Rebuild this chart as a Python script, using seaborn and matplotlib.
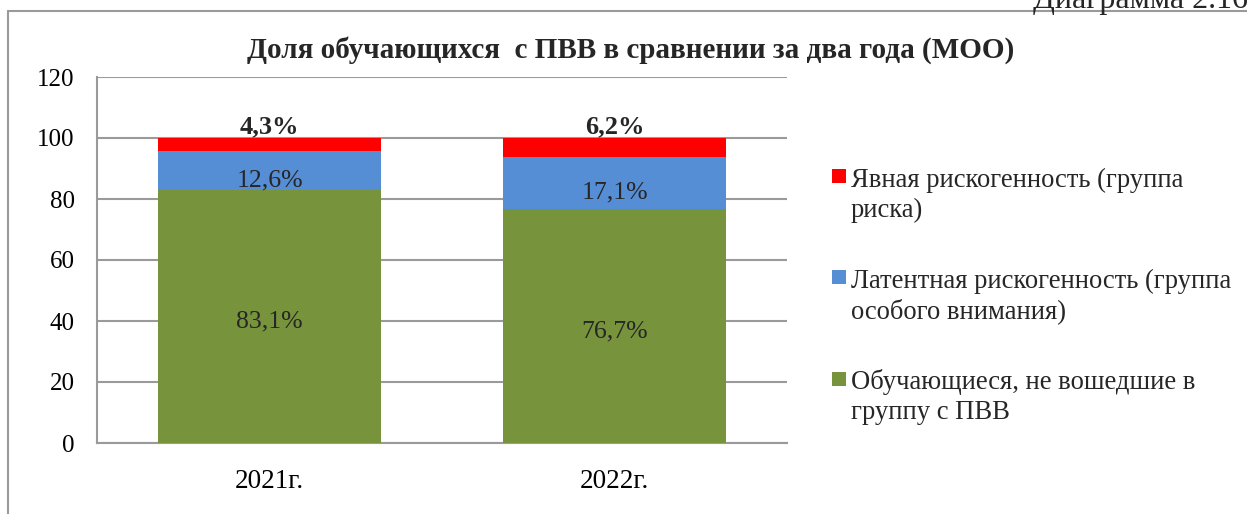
import numpy as np
import pandas as pd
import matplotlib
matplotlib.use("Agg")
import matplotlib.pyplot as plt
from matplotlib.lines import Line2D
from matplotlib.patches import Rectangle
import seaborn as sns

years = ["2021г.", "2022г."]
green_vals = [83.1, 76.7]
blue_vals = [12.6, 17.1]
red_vals = [4.3, 6.2]
green_labels = ["83,1%", "76,7%"]
blue_labels = ["12,6%", "17,1%"]
red_labels = ["4,3%", "6,2%"]
series_names = [["Явная рискогенность (группа", "риска)"],
                ["Латентная рискогенность (группа", "особого внимания)"],
                ["Обучающиеся, не вошедшие в", "группу с ПВВ"]]
title = "Доля обучающихся  с ПВВ в сравнении за два года (МОО)"
caption = "Диаграмма 2.16"
yticks = [0, 20, 40, 60, 80, 100, 120]

C_RED = "#FF0000"
C_BLUE = "#558ED5"
C_GREEN = "#77933C"
GRID = "#9A9A9A"

sns.set_theme(style="white")
plt.rcParams["font.family"] = ["Liberation Serif", "DejaVu Serif"]

W, H = 1247, 514
fig = plt.figure(figsize=(W / 100, H / 100), dpi=100)
fig.patch.set_facecolor("white")


def fx(px):
    return px / W


def fy(py):
    return 1 - py / H


ax_left, ax_right, ax_top, ax_bottom = 97, 787, 77, 443
ax = fig.add_axes([fx(ax_left), fy(ax_bottom), (ax_right - ax_left) / W, (ax_bottom - ax_top) / H])

g = np.array(green_vals)
b = np.array(blue_vals)
r = np.array(red_vals)
cum_gb = g + b
cum_all = g + b + r

df = pd.DataFrame({"year": years, "all": cum_all, "gb": cum_gb, "g": g})
bw = 223 / 345
for col, c in [("all", C_RED), ("gb", C_BLUE), ("g", C_GREEN)]:
    sns.barplot(data=df, x="year", y=col, color=c, saturation=1, width=bw, ax=ax,
                edgecolor="none", linewidth=0, zorder=3)

ax.set_xlim(-0.5, 1.5)
ax.set_ylim(0, 120)
ax.set_yticks(yticks)
ax.set_yticklabels([str(t) for t in yticks])
ax.yaxis.grid(True, color=GRID, linewidth=1.5, zorder=0)
ax.set_axisbelow(True)
ax.set_xlabel("")
ax.set_ylabel("")
for s in ["top", "right"]:
    ax.spines[s].set_visible(False)
for s in ["left", "bottom"]:
    ax.spines[s].set_color(GRID)
    ax.spines[s].set_linewidth(1.5)
ax.tick_params(axis="both", length=0, colors="black")
ax.tick_params(axis="y", pad=16, labelsize=18)
ax.tick_params(axis="x", pad=19, labelsize=19.5)

for i in range(len(years)):
    ax.annotate(green_labels[i], (i, g[i] / 2), xytext=(0, -4), textcoords="offset points",
                ha="center", va="center", fontsize=18.5, zorder=5)
    ax.annotate(blue_labels[i], (i, g[i] + b[i] / 2), xytext=(0, -7), textcoords="offset points",
                ha="center", va="center", fontsize=18.5, zorder=5)
    ax.annotate(red_labels[i], (i, cum_all[i]), xytext=(0, 0), textcoords="offset points",
                ha="center", va="bottom", fontsize=19, fontweight="bold", zorder=5)

# legend (patch aligned with first line of each entry, as in the reference)
leg_colors = [C_RED, C_BLUE, C_GREEN]
patch_tops = [169, 270, 372]
first_baselines = [187, 288, 389]
line_gap = 30
for col, ptop, bl, lines in zip(leg_colors, patch_tops, first_baselines, series_names):
    fig.add_artist(Rectangle((fx(832), fy(ptop + 14)), 14 / W, 14 / H, transform=fig.transFigure,
                             facecolor=col, edgecolor="none"))
    for k, ln in enumerate(lines):
        fig.text(fx(851), fy(bl + k * line_gap), ln, ha="left", va="baseline", fontsize=19.2)

fig.text(fx(631), fy(50), title, ha="center", va="center", fontsize=21, fontweight="bold")
fig.text(fx(1033), fy(8), caption, ha="left", va="baseline", fontsize=23)

fig.add_artist(Line2D([fx(8), 1], [fy(11), fy(11)], color=GRID, linewidth=1.5, transform=fig.transFigure))
fig.add_artist(Line2D([fx(8), fx(8)], [0, fy(11)], color=GRID, linewidth=1.5, transform=fig.transFigure))

fig.savefig("out.png", dpi=100, facecolor="white")
